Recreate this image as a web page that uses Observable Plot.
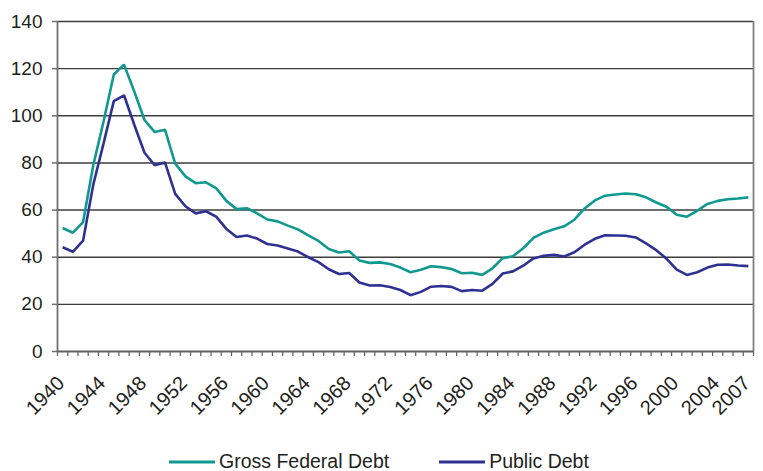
<!DOCTYPE html>
<html>
<head>
<meta charset="utf-8">
<script src="https://cdn.jsdelivr.net/npm/d3@7"></script>
<script src="https://cdn.jsdelivr.net/npm/@observablehq/plot@0.6"></script>
<style>
  html, body { margin: 0; padding: 0; background: #fff; }
  body { width: 763px; height: 471px; position: relative; overflow: hidden; font-family: "Liberation Sans", Arial, sans-serif; }
  #legend { position: absolute; left: 169px; top: 450px; height: 23px; display: flex; align-items: center; font-size: 19.5px; color: #231f20; }
  #legend .item { display: flex; align-items: center; }
  #legend svg { margin-right: 4px; }
</style>
</head>
<body>
<div id="chart"></div>
<div id="legend"></div>
<script>
const years = d3.range(1940, 2008);
const grossDebt = [
  52.4, 50.4, 54.9, 79.1, 97.6, 117.5, 121.7, 110.3, 98.2, 93.1,
  94.1, 79.7, 74.3, 71.4, 71.8, 69.3, 63.9, 60.4, 60.8, 58.6,
  56.0, 55.2, 53.4, 51.8, 49.3, 46.9, 43.5, 42.0, 42.5, 38.6,
  37.6, 37.8, 37.1, 35.6, 33.6, 34.7, 36.2, 35.8, 35.0, 33.2,
  33.4, 32.5, 35.3, 39.6, 40.4, 43.8, 48.2, 50.4, 51.9, 53.1,
  55.9, 60.7, 64.1, 66.1, 66.6, 67.0, 66.7, 65.4, 63.2, 61.4,
  58.0, 57.2, 59.7, 62.6, 63.9, 64.6, 64.9, 65.4
];
const publicDebt = [
  44.2, 42.3, 47.0, 70.9, 88.3, 106.2, 108.7, 96.2, 84.3, 79.0,
  80.2, 66.9, 61.6, 58.6, 59.5, 57.2, 52.0, 48.6, 49.2, 47.9,
  45.6, 45.0, 43.7, 42.4, 40.0, 37.9, 34.9, 32.9, 33.3, 29.3,
  28.0, 28.1, 27.4, 26.1, 23.9, 25.3, 27.5, 27.8, 27.4, 25.6,
  26.1, 25.8, 28.7, 33.1, 34.0, 36.4, 39.5, 40.6, 41.0, 40.3,
  42.1, 45.3, 47.8, 49.3, 49.2, 49.1, 48.4, 45.9, 43.0, 39.4,
  34.7, 32.5, 33.6, 35.6, 36.8, 36.9, 36.5, 36.2
];
const seriesNames = ["Gross Federal Debt", "Public Debt"];
const seriesColors = ["#0f9990", "#2e3192"];
const yTicks = [0, 20, 40, 60, 80, 100, 120, 140];
const xLabelYears = [1940, 1944, 1948, 1952, 1956, 1960, 1964, 1968, 1972, 1976, 1980, 1984, 1988, 1992, 1996, 2000, 2004, 2007];

const data = [];
years.forEach((yr, i) => {
  data.push({year: yr, value: grossDebt[i], series: seriesNames[0]});
  data.push({year: yr, value: publicDebt[i], series: seriesNames[1]});
});
const boundaries = d3.range(years[0] - 0.5, years[years.length - 1] + 1, 1);

const chart = Plot.plot({
  width: 763,
  height: 440,
  marginLeft: 57,
  marginRight: 10,
  marginTop: 21,
  marginBottom: 89,
  style: {fontFamily: "Liberation Sans, Arial, sans-serif", background: "#fff"},
  x: {domain: [years[0] - 0.5, years[years.length - 1] + 0.5], axis: null},
  y: {domain: [0, 140], axis: null},
  color: {domain: seriesNames, range: seriesColors},
  marks: [
    Plot.ruleY(yTicks.filter(d => d > 0), {stroke: "#3d3d3d", strokeWidth: 1.4}),
    Plot.ruleX([years[0] - 0.5], {stroke: "#707070", strokeWidth: 1.8}),
    Plot.ruleX([years[years.length - 1] + 0.5], {stroke: "#808080", strokeWidth: 1.8}),
    Plot.axisY({ticks: yTicks, tickSize: 5, tickPadding: 10, fontSize: 19, color: "#231f20", stroke: "#707070", strokeWidth: 1.5, label: null, tickFormat: d => String(d)}),
    Plot.axisX({ticks: boundaries, tickSize: 5, tickFormat: () => "", stroke: "#606060", strokeWidth: 1.2, label: null}),
    Plot.text(xLabelYears, {x: d => d, text: d => String(d), frameAnchor: "bottom", dx: 3, dy: 33, rotate: -45, textAnchor: "end", lineAnchor: "bottom", fontSize: 20, fill: "#231f20"}),
    Plot.ruleY([0], {stroke: "#606060", strokeWidth: 1.8}),
    Plot.line(data, {x: "year", y: "value", z: "series", stroke: "series", strokeWidth: 2.6, strokeLinejoin: "miter", strokeLinecap: "butt"})
  ]
});
document.getElementById("chart").appendChild(chart);

const legend = document.getElementById("legend");
seriesNames.forEach((name, i) => {
  const item = document.createElement("div");
  item.className = "item";
  if (i > 0) item.style.marginLeft = "50px";
  item.innerHTML = `<svg width="46" height="6"><line x1="0" x2="46" y1="3" y2="3" stroke="${seriesColors[i]}" stroke-width="3"/></svg><span>${name}</span>`;
  legend.appendChild(item);
});
</script>
</body>
</html>
